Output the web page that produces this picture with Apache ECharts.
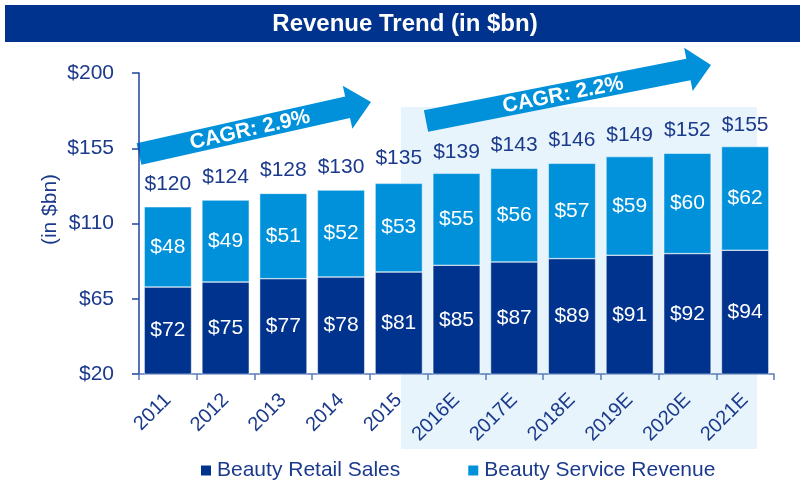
<!DOCTYPE html>
<html>
<head>
<meta charset="utf-8">
<script src="https://cdn.jsdelivr.net/npm/echarts@6/dist/echarts.min.js"></script>
<style>
  html, body { margin: 0; padding: 0; background: #fff; }
  #main { width: 804px; height: 483px; }
</style>
</head>
<body>
<div id="main"></div>
<script>
// data
var years = ['2011', '2012', '2013', '2014', '2015', '2016E', '2017E', '2018E', '2019E', '2020E', '2021E'];
var retailSales = [72, 75, 77, 78, 81, 85, 87, 89, 91, 92, 94];
var serviceRevenue = [48, 49, 51, 52, 53, 55, 56, 57, 59, 60, 62];
var totals = [120, 124, 128, 130, 135, 139, 143, 146, 149, 152, 155];
var cagrTexts = ['CAGR: 2.9%', 'CAGR: 2.2%'];

var navy = '#00338D';
var mid = '#0091DA';
var txt = '#1B3A8C';
var font = '"Liberation Sans", Arial, sans-serif';

// arrow outline from tail centre to tip
function arrowPoints(tail, tip, hs, hh, hl) {
  var dx = tip[0] - tail[0], dy = tip[1] - tail[1];
  var len = Math.sqrt(dx * dx + dy * dy);
  var ux = dx / len, uy = dy / len;
  var nx = -uy, ny = ux;
  var bx = tip[0] - ux * hl, by = tip[1] - uy * hl;
  return [
    [tail[0] + nx * hs, tail[1] + ny * hs],
    [bx + nx * hs, by + ny * hs],
    [bx + nx * hh, by + ny * hh],
    tip,
    [bx - nx * hh, by - ny * hh],
    [bx - nx * hs, by - ny * hs],
    [tail[0] - nx * hs, tail[1] - ny * hs]
  ];
}

var chart = echarts.init(document.getElementById('main'));

var option = {
  animation: false,
  textStyle: { fontFamily: font },
  grid: { left: 139, right: 30, top: 73, bottom: 109 },
  legend: {
    data: ['Beauty Retail Sales', 'Beauty Service Revenue'],
    left: 194,
    top: 455,
    icon: 'rect',
    itemWidth: 12,
    itemHeight: 12,
    itemGap: 66,
    textStyle: { color: txt, fontSize: 21, fontFamily: font }
  },
  xAxis: {
    type: 'category',
    data: years,
    axisLine: { lineStyle: { color: '#5B7BB8', width: 1.5 } },
    axisTick: { show: true, length: 6, lineStyle: { color: '#5B7BB8', width: 1.5 } },
    axisLabel: { rotate: 45, color: txt, fontSize: 20, margin: 23, fontFamily: font }
  },
  yAxis: {
    type: 'value',
    min: 20,
    max: 200,
    interval: 45,
    name: '(in $bn)',
    nameLocation: 'middle',
    nameGap: 78,
    nameMoveOverlap: false,
    nameTextStyle: { color: txt, fontSize: 21, fontFamily: font, padding: [0, 0, 0, 28] },
    splitLine: { show: false },
    axisLine: { show: true, lineStyle: { color: '#1F45A0', width: 1.5 } },
    axisTick: { show: true, length: 7, lineStyle: { color: '#1F45A0', width: 1.5 } },
    axisLabel: { color: txt, fontSize: 21, margin: 25, formatter: '${value}', fontFamily: font }
  },
  series: [
    {
      name: 'Beauty Retail Sales',
      type: 'bar',
      stack: 'rev',
      barCategoryGap: '18%',
      data: retailSales,
      itemStyle: { color: navy, borderColor: '#ffffff', borderWidth: 0.5 },
      label: { show: true, position: 'inside', color: '#fff', fontSize: 21, formatter: '${c}', fontFamily: font }
    },
    {
      name: 'Beauty Service Revenue',
      type: 'bar',
      stack: 'rev',
      data: serviceRevenue,
      itemStyle: { color: mid, borderColor: '#ffffff', borderWidth: 0.5 },
      label: { show: true, position: 'inside', color: '#fff', fontSize: 21, formatter: '${c}', fontFamily: font }
    },
    {
      name: 'Total',
      type: 'line',
      data: totals,
      symbol: 'circle',
      symbolSize: 1,
      showSymbol: true,
      itemStyle: { color: 'rgba(0,0,0,0)' },
      lineStyle: { opacity: 0 },
      label: { show: true, position: 'top', distance: 12, color: txt, fontSize: 21, formatter: '${c}', fontFamily: font },
      z: 5
    }
  ],
  graphic: [
    {
      type: 'rect',
      z: -10,
      shape: { x: 401, y: 107, width: 356, height: 342 },
      style: { fill: '#E8F4FC' }
    },
    {
      type: 'rect',
      shape: { x: 5, y: 5, width: 795, height: 37 },
      style: { fill: navy }
    },
    {
      type: 'text',
      x: 405,
      y: 24,
      style: {
        text: 'Revenue Trend (in $bn)',
        fill: '#fff',
        font: 'bold 24px ' + font,
        textAlign: 'center',
        textVerticalAlign: 'middle'
      }
    },
    {
      type: 'polygon',
      shape: { points: arrowPoints([139, 154], [371, 102], 11, 22, 24) },
      style: { fill: mid }
    },
    {
      type: 'text',
      x: 250,
      y: 130,
      rotation: 0.22,
      style: {
        text: cagrTexts[0],
        fill: '#fff',
        font: 'bold 21px ' + font,
        textAlign: 'center',
        textVerticalAlign: 'middle'
      }
    },
    {
      type: 'polygon',
      shape: { points: arrowPoints([426, 121], [711, 65], 11, 22, 23) },
      style: { fill: mid }
    },
    {
      type: 'text',
      x: 563,
      y: 95,
      rotation: 0.194,
      style: {
        text: cagrTexts[1],
        fill: '#fff',
        font: 'bold 21px ' + font,
        textAlign: 'center',
        textVerticalAlign: 'middle'
      }
    }
  ]
};

chart.setOption(option);
</script>
</body>
</html>
